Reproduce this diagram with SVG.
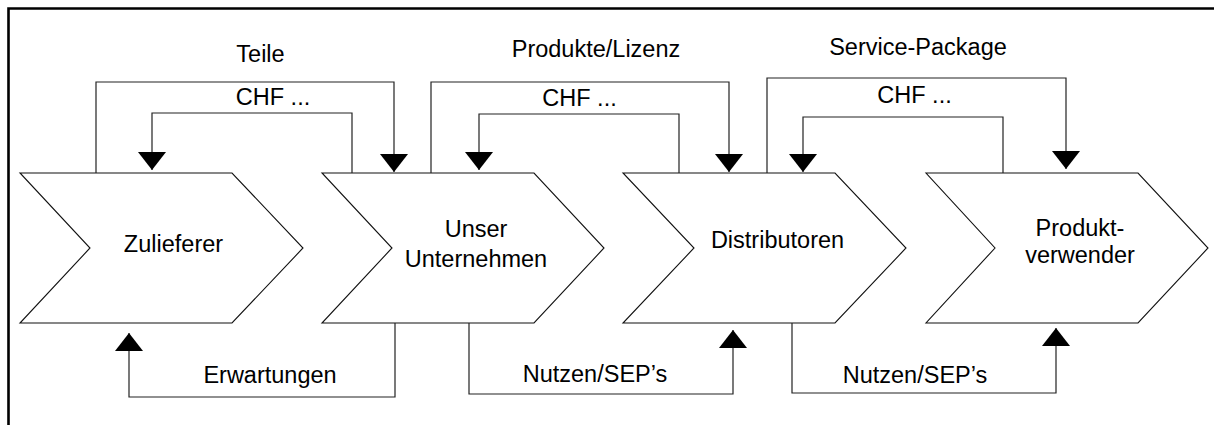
<svg xmlns="http://www.w3.org/2000/svg" width="1214" height="425" viewBox="0 0 1214 425">
<style>
.frame{fill:none;stroke:#000;stroke-width:2.6}
.chev{fill:#fff;stroke:#111;stroke-width:1.1}
.conn{fill:none;stroke:#222;stroke-width:1.2}
text{font-family:"Liberation Sans",Arial,sans-serif;font-size:23.5px;fill:#000;text-anchor:middle}
</style>
<defs>
<marker id="arr" markerUnits="userSpaceOnUse" markerWidth="18" markerHeight="28" viewBox="0 0 18 28" refX="18" refY="14" orient="auto">
<path d="M0,0 L18,14 L0,28 Z" fill="#000"/>
</marker>
</defs>
<rect width="1214" height="425" fill="#fff"/>
<path class="frame" d="M8.5,425 V8.5 H1214"/>
<g id="node-zulieferer">
<path class="chev" d="M20,173 H232 L303,248 L232,323 H20 L90,248 Z"/>
<text x="173.5" y="252">Zulieferer</text>
</g>
<g id="node-unternehmen">
<path class="chev" d="M322,173 H534 L604,248 L534,323 H322 L392,248 Z"/>
<text x="476" y="237">Unser</text>
<text x="476" y="267">Unternehmen</text>
</g>
<g id="node-distributoren">
<path class="chev" d="M623,173 H835 L906,248 L835,323 H623 L694,248 Z"/>
<text x="777.5" y="248">Distributoren</text>
</g>
<g id="node-produktverwender">
<path class="chev" d="M926,173 H1138 L1208,248 L1138,323 H926 L995,248 Z"/>
<text x="1080" y="236">Produkt-</text>
<text x="1080" y="263">verwender</text>
</g>
<g id="connectors">
<path class="conn" marker-end="url(#arr)" d="M96,173 V82 H394 V172"/>
<path class="conn" marker-end="url(#arr)" d="M352,173 V113 H152 V170"/>
<path class="conn" marker-end="url(#arr)" d="M431,173 V82 H729 V172"/>
<path class="conn" marker-end="url(#arr)" d="M679,173 V114 H479 V170"/>
<path class="conn" marker-end="url(#arr)" d="M767,173 V78 H1066 V169"/>
<path class="conn" marker-end="url(#arr)" d="M1003,173 V117 H803 V172"/>
<path class="conn" marker-end="url(#arr)" d="M395,323 V397 H129 V333"/>
<path class="conn" marker-end="url(#arr)" d="M469,323 V394 H733 V330"/>
<path class="conn" marker-end="url(#arr)" d="M792,323 V393 H1056 V328"/>
<text x="260.5" y="62">Teile</text>
<text x="273" y="105">CHF ...</text>
<text x="596" y="57">Produkte/Lizenz</text>
<text x="579.5" y="106">CHF ...</text>
<text x="918" y="55">Service-Package</text>
<text x="914.5" y="103">CHF ...</text>
<text x="270" y="383">Erwartungen</text>
<text x="595" y="382">Nutzen/SEP’s</text>
<text x="915" y="383">Nutzen/SEP’s</text>
</g>
</svg>
